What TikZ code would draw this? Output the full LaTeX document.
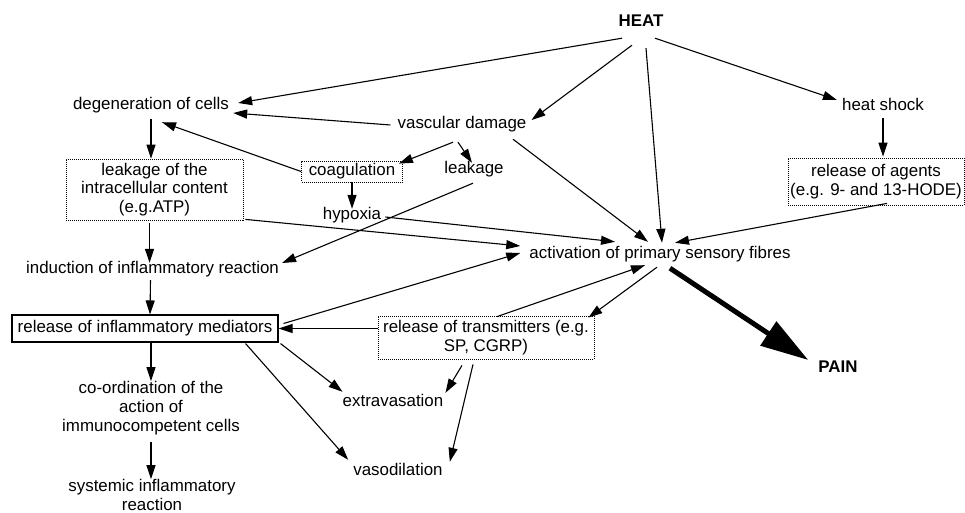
\documentclass[tikz,border=0pt]{standalone}
\usepackage{fontspec}
\setmainfont{Liberation Sans}
\usetikzlibrary{arrows.meta}

\begin{document}
\begin{tikzpicture}[x=1pt,y=-1pt,
  every node/.style={font=\fontsize{16.9}{18.8}\selectfont,inner sep=0pt},
  txt/.style={text height=12pt,text depth=4pt},
  headline/.style={txt,font=\fontsize{16.9}{18.8}\selectfont\bfseries},
  dotbox/.style={draw,dash pattern=on 1pt off 1pt,line width=0.8pt,align=center},
  conn/.style={line width=1.1pt,-{Triangle[length=14pt,width=9pt]}},
  painarrow/.style={line width=5pt,-{Triangle[length=48pt,width=28pt]}}]
\useasboundingbox (0,0) rectangle (965,513);
\clip (0,0) rectangle (965,513);

% top row
\node[headline] (heat) at (641,23) {HEAT};
\node[txt] (degen) at (151,106) {degeneration of cells};
\node[txt] (vasc) at (462,125) {vascular damage};
\node[txt] (shock) at (883,107) {heat shock};

% second row
\node[dotbox,minimum width=177pt,minimum height=61pt] (leakbox) at (154.5,189.5) {leakage of the\\intracellular content\\(e.g.ATP)};
\node[dotbox,txt,minimum width=101pt,minimum height=21pt] (coag) at (352,171.5) {coagulation};
\node[txt] (leak) at (474,170) {leakage};
\node[txt] (hypoxia) at (352,215) {hypoxia};
\node[dotbox,minimum width=176pt,minimum height=47pt] (agents) at (876,181.5) {release of agents\\(e.g. 9- and 13-HODE)};

% middle
\node[txt] (act) at (660,254) {activation of primary sensory fibres};
\node[txt] (induct) at (152.5,269) {induction of inflammatory reaction};
\node[txt,draw,line width=1.1pt,minimum width=266pt,minimum height=27pt] (medi) at (145,328.5) {release of inflammatory mediators};
\node[dotbox,minimum width=216pt,minimum height=43pt] (trans) at (486,337.5) {release of transmitters (e.g.\\SP, CGRP)};
\node[headline] (pain) at (838,368) {PAIN};

% bottom
\node[txt] (extra) at (393,402) {extravasation};
\node[txt] (vaso) at (398,471) {vasodilation};
\node[align=center] (coord) at (151,408) {co-ordination of the\\action of\\immunocompetent cells};
\node[align=center] (syst) at (152,495) {systemic inflammatory\\reaction};

% from HEAT
\draw[conn] ([shift={(-19,7)}]heat.south) -- ([shift={(9,-3)}]degen.east);
\draw[conn] ([shift={(-9,14)}]heat.south) -- ([shift={(5,-5)}]vasc.east);
\draw[conn] ([shift={(5,17)}]heat.south) -- ([shift={(2,-3)}]act.north);
\draw[conn] ([shift={(14,7)}]heat.south) -- ([shift={(-5,-7)}]shock.west);

% vascular damage and cells
\draw[conn] ([shift={(-7,0)}]vasc.west) -- ([shift={(4,7)}]degen.east);
\draw[conn] (coag.west) -- ([shift={(11,8)}]degen.south);
\draw[conn] ([yshift=-5pt]degen.south) -- (degen.south |- leakbox.north);
\draw[conn] ([shift={(-9,9)}]vasc.south) -- ([shift={(-4,3)}]coag.north east);
\draw[conn] ([shift={(-4,9)}]vasc.south) -- ([shift={(-2,1)}]leak.north);
\draw[conn] ([shift={(51,6)}]vasc.south) -- ([shift={(-12,-4)}]act.north);
\draw[conn] (coag.south) -- ([yshift=-2pt]hypoxia.north);
\draw[conn] ([shift={(4,2)}]hypoxia.east) -- ([shift={(-45,-4)}]act.north);
\draw[conn] ([shift={(-1,5)}]leak.south) -- ([shift={(3,-6)}]induct.east);
\draw[conn] ([shift={(2,-1)}]leakbox.south east) -- ([shift={(-9,-8)}]act.west);
\draw[conn] ([shift={(-5,3)}]leakbox.south) -- ([shift={(-3,2)}]induct.north);
\draw[conn] ([shift={(0,3)}]shock.south) -- ([shift={(7,-1)}]agents.north);
\draw[conn] ([shift={(11,-2)}]agents.south) -- ([shift={(15,-3)}]act.north);

% inflammation
\draw[conn] ([shift={(-2,3)}]induct.south) -- ([shift={(5,0)}]medi.north);
\draw[conn] ([shift={(-3,5)}]act.south) -- ([shift={(-6,2)}]trans.north east);
\draw[conn] ([shift={(11,1)}]trans.north) -- ([shift={(-15,3)}]act.south);
\draw[conn] ([shift={(5,-5)}]medi.east) -- ([shift={(-9,-1)}]act.west);
\draw[conn] (medi.east -| trans.west) -- (medi.east);
\draw[conn] (medi.south -| coord.north) -- (coord.north);
\draw[conn] ([shift={(2,1)}]medi.south east) -- ([shift={(0,-2)}]extra.north west);
\draw[conn] ([shift={(-33,1)}]medi.south east) -- ([shift={(-5,-3)}]vaso.north west);
\draw[conn] ([shift={(-24,6)}]trans.south) -- ([shift={(2,-1)}]extra.north east);
\draw[conn] ([shift={(-13,5)}]trans.south) -- ([shift={(7,-1)}]vaso.north east);
\draw[conn] ([yshift=-7pt]coord.south) -- (coord.south |- syst.north);

% pain
\draw[painarrow] ([shift={(10,6)}]act.south) -- ([shift={(-10,-8)}]pain.west);
\end{tikzpicture}
\end{document}
